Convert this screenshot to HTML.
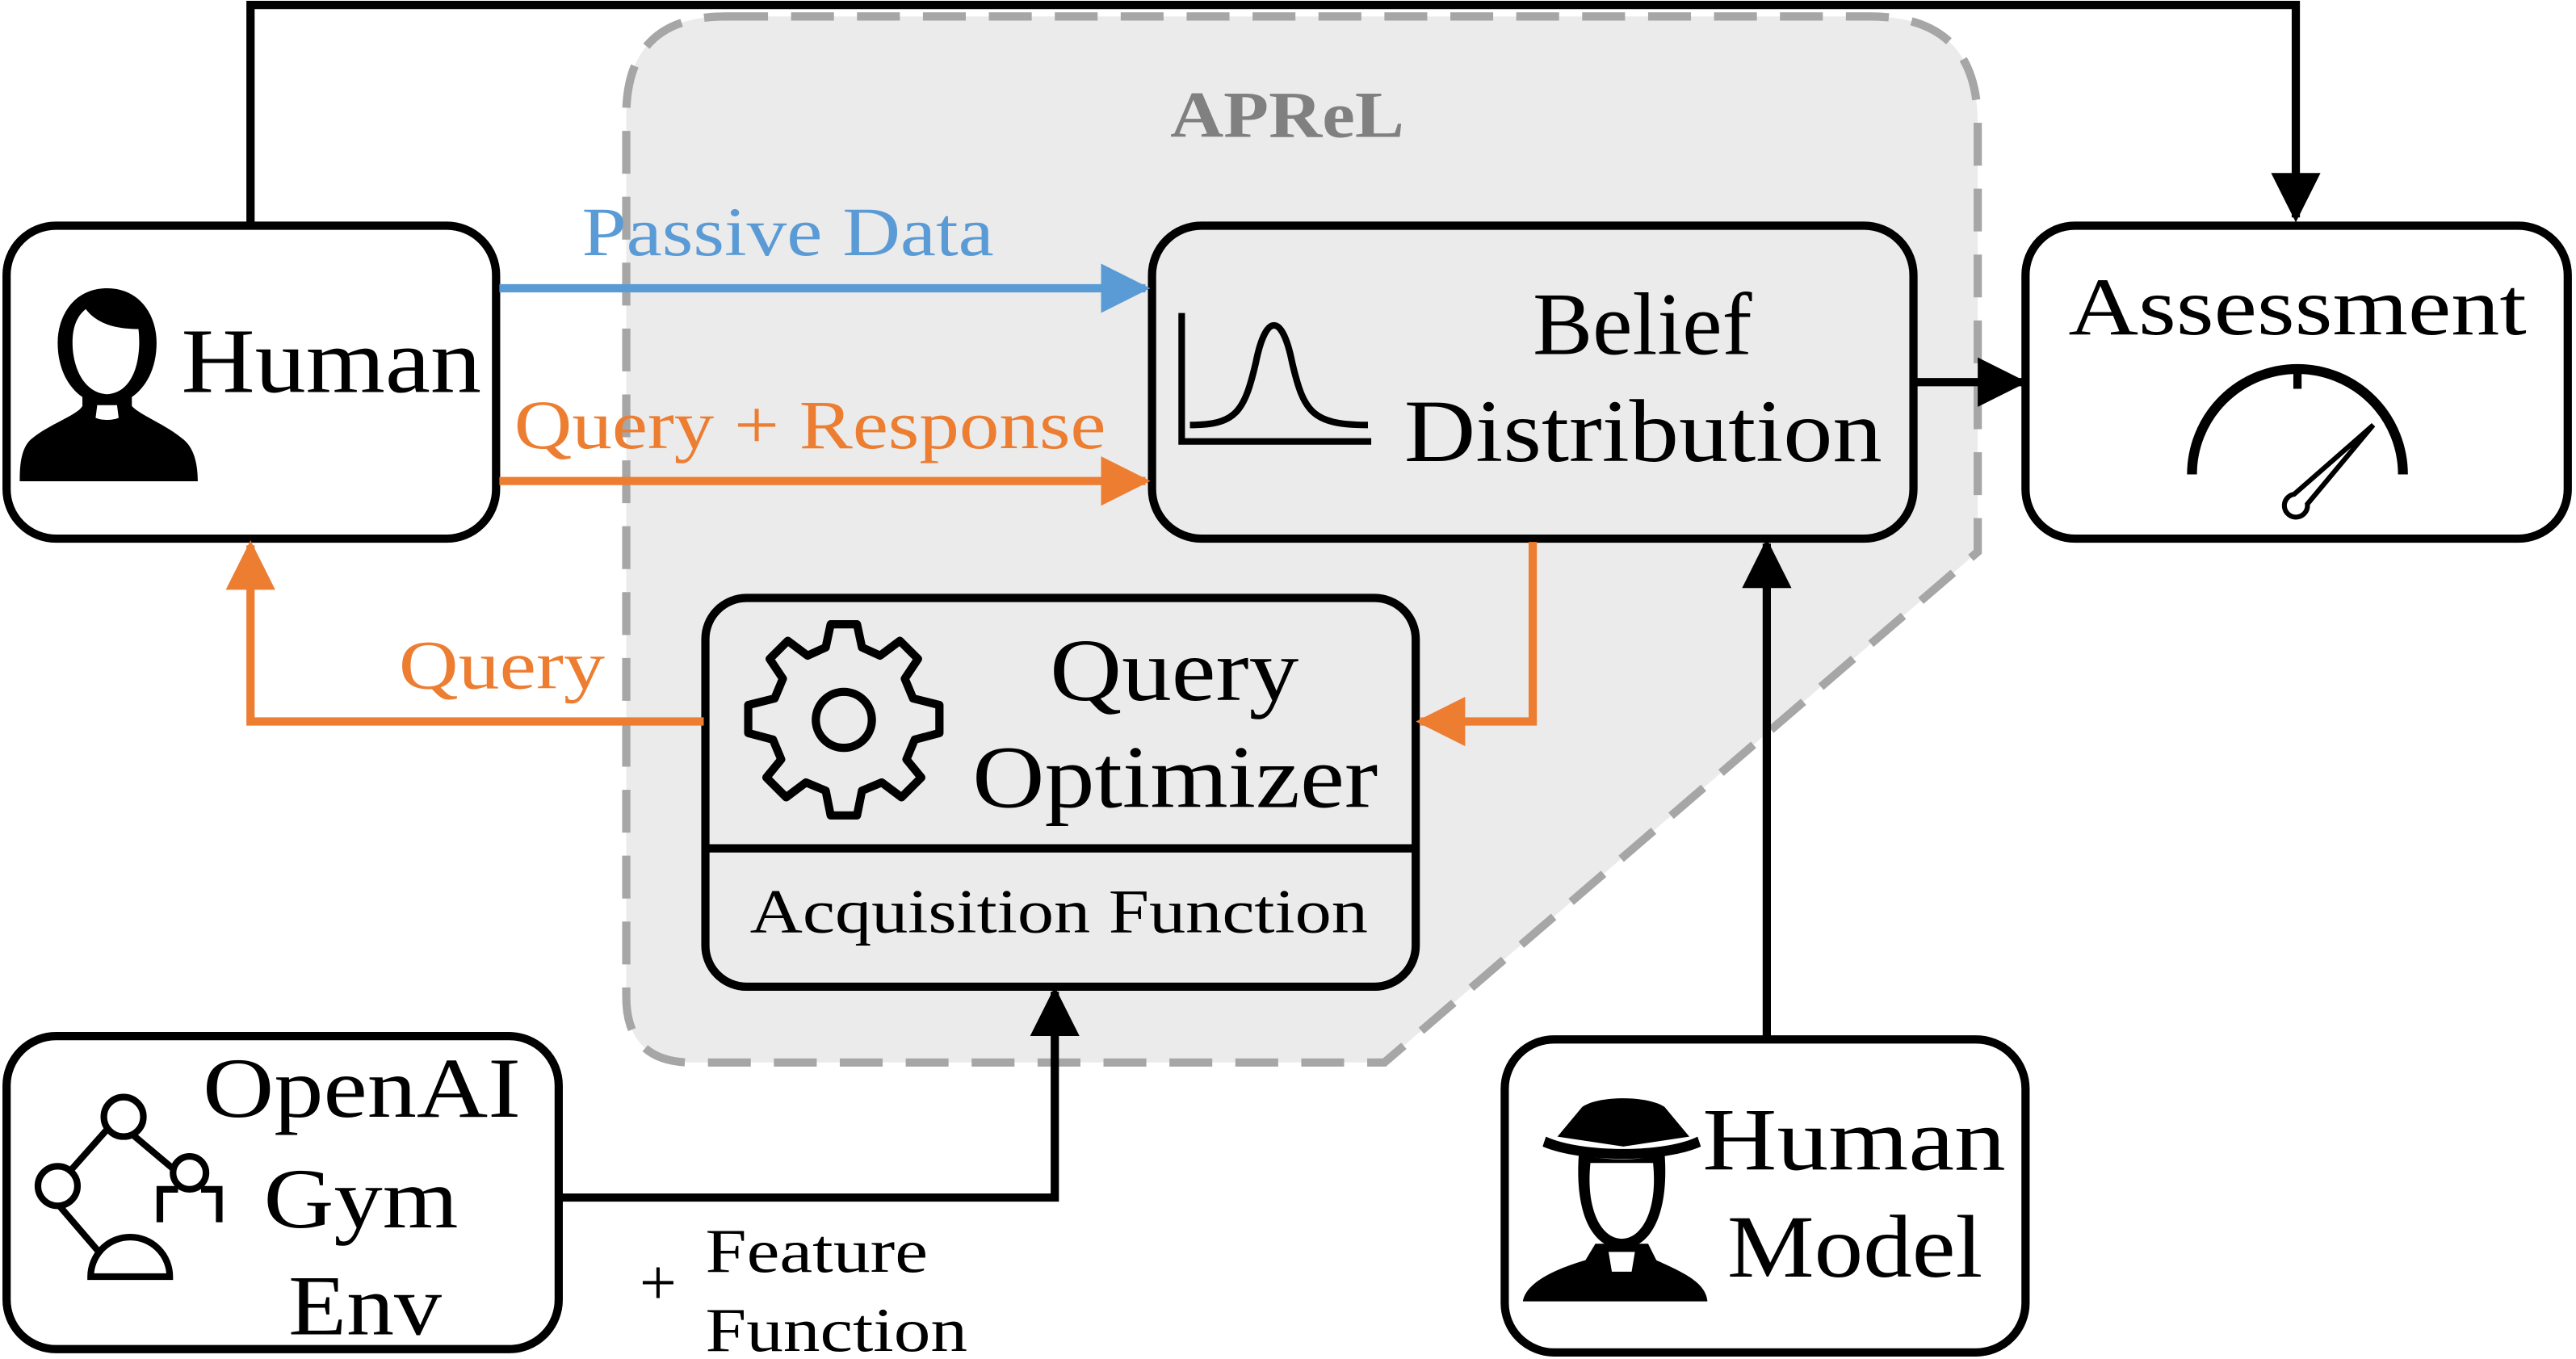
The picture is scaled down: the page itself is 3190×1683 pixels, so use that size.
<!DOCTYPE html>
<html><head><meta charset="utf-8"><style>
html,body{margin:0;padding:0;background:#fff;}
svg{display:block;}
text{font-family:"Liberation Serif",serif;}
</style></head><body>
<svg width="3190" height="1683" viewBox="0 0 1563 825" preserveAspectRatio="none" xmlns="http://www.w3.org/2000/svg">
<defs>
<marker id="ab" viewBox="0 0 10 10" refX="9" refY="5" markerWidth="6" markerHeight="6" orient="auto" markerUnits="strokeWidth"><path d="M0,0L10,5L0,10z" fill="#5b9bd5"/></marker>
<marker id="ao" viewBox="0 0 10 10" refX="9" refY="5" markerWidth="6" markerHeight="6" orient="auto" markerUnits="strokeWidth"><path d="M0,0L10,5L0,10z" fill="#ed7d31"/></marker>
<marker id="ak" viewBox="0 0 10 10" refX="9" refY="5" markerWidth="6" markerHeight="6" orient="auto" markerUnits="strokeWidth"><path d="M0,0L10,5L0,10z" fill="#000"/></marker>
</defs>
<path d="M440,10 L1135,10 Q1200,10 1200,75 L1200,335 L840,645 L420,645 Q380,645 380,605 L380,70 Q380,10 440,10Z" fill="#ebebeb" stroke="#a6a6a6" stroke-width="5" stroke-dasharray="26,14"/>
<text x="710" y="83" font-size="40" font-weight="bold" fill="#808080" textLength="142" lengthAdjust="spacingAndGlyphs">APReL</text>
<path d="M152,135 L152,3 L1393,3 L1393,132" fill="none" stroke="#000" stroke-width="5" marker-end="url(#ak)"/>
<rect x="4" y="137" width="297" height="190" rx="30" fill="#fff" stroke="#000" stroke-width="5"/>
<rect x="1229" y="137" width="329" height="190" rx="30" fill="#fff" stroke="#000" stroke-width="5"/>
<rect x="699" y="137" width="462" height="190" rx="30" fill="#ebebeb" stroke="#000" stroke-width="5"/>
<rect x="428" y="363" width="431" height="236" rx="25" fill="#ebebeb" stroke="#000" stroke-width="5"/>
<line x1="428" y1="515" x2="859" y2="515" stroke="#000" stroke-width="5"/>
<rect x="4" y="629" width="335" height="190" rx="30" fill="#fff" stroke="#000" stroke-width="5"/>
<rect x="913" y="631" width="316" height="190" rx="30" fill="#fff" stroke="#000" stroke-width="5"/>
<line x1="303" y1="175" x2="695" y2="175" stroke="#5b9bd5" stroke-width="5" marker-end="url(#ab)"/>
<line x1="303" y1="292" x2="695" y2="292" stroke="#ed7d31" stroke-width="5" marker-end="url(#ao)"/>
<path d="M427,438 L152,438 L152,331" fill="none" stroke="#ed7d31" stroke-width="5" marker-end="url(#ao)"/>
<path d="M930,329 L930,438 L862,438" fill="none" stroke="#ed7d31" stroke-width="5" marker-end="url(#ao)"/>
<line x1="1162" y1="232" x2="1227" y2="232" stroke="#000" stroke-width="5" marker-end="url(#ak)"/>
<line x1="1072" y1="630" x2="1072" y2="330" stroke="#000" stroke-width="5" marker-end="url(#ak)"/>
<path d="M340,727 L640,727 L640,602" fill="none" stroke="#000" stroke-width="5" marker-end="url(#ak)"/>
<text x="353" y="155" font-size="42" fill="#5b9bd5" textLength="250" lengthAdjust="spacingAndGlyphs">Passive Data</text>
<text x="312" y="272" font-size="42" fill="#ed7d31" textLength="359" lengthAdjust="spacingAndGlyphs">Query + Response</text>
<text x="242" y="418" font-size="42" fill="#ed7d31" textLength="125" lengthAdjust="spacingAndGlyphs">Query</text>
<text x="110" y="238" font-size="56" textLength="182" lengthAdjust="spacingAndGlyphs">Human</text>
<text x="1255" y="203" font-size="50" textLength="278" lengthAdjust="spacingAndGlyphs">Assessment</text>
<text x="930" y="215" font-size="54" textLength="133" lengthAdjust="spacingAndGlyphs">Belief</text>
<text x="852" y="280" font-size="54" textLength="290" lengthAdjust="spacingAndGlyphs">Distribution</text>
<text x="637" y="425" font-size="54" textLength="151" lengthAdjust="spacingAndGlyphs">Query</text>
<text x="590" y="490" font-size="54" textLength="246" lengthAdjust="spacingAndGlyphs">Optimizer</text>
<text x="455" y="566" font-size="38" textLength="375" lengthAdjust="spacingAndGlyphs">Acquisition Function</text>
<text x="123" y="678" font-size="52" textLength="193" lengthAdjust="spacingAndGlyphs">OpenAI</text>
<text x="160" y="745" font-size="52" textLength="118" lengthAdjust="spacingAndGlyphs">Gym</text>
<text x="175" y="810" font-size="52" textLength="93" lengthAdjust="spacingAndGlyphs">Env</text>
<text x="1033" y="710" font-size="54" textLength="184" lengthAdjust="spacingAndGlyphs">Human</text>
<text x="1048" y="775" font-size="54" textLength="155" lengthAdjust="spacingAndGlyphs">Model</text>
<text x="388" y="792" font-size="40">+</text>
<text x="428" y="772" font-size="38" textLength="135" lengthAdjust="spacingAndGlyphs">Feature</text>
<text x="428" y="820" font-size="38" textLength="159" lengthAdjust="spacingAndGlyphs">Function</text>
<g transform="translate(0,175) scale(1,0.55) translate(0,-175)">
<path d="M65,175 C45,175 35,205 35,235 C35,265 42,285 50,295 L50,305 C47,315 30,325 20,340 C12,350 12,375 12,388 L120,388 C120,370 118,350 110,340 C100,325 85,315 80,305 L80,295 C88,285 95,265 95,235 C95,205 85,175 65,175Z" fill="#000"/>
<path d="M52,198 C57,210 66,220 84,220 C86,250 82,290 65,292 C50,290 44,260 44,235 C44,220 46,207 52,198Z" fill="#fff"/>
<path d="M59,304 L71,304 L72,318 C68,321 62,321 58,318Z" fill="#fff"/>
</g>
<path d="M717,190 L717,268 L832,268" fill="none" stroke="#000" stroke-width="4"/>
<path d="M722,258 C750,258 755,250 762,220 C768,190 778,190 784,220 C791,250 796,258 830,258" fill="none" stroke="#000" stroke-width="4"/>
<path d="M1330,288 A64,64 0 0 1 1458,288" fill="none" stroke="#000" stroke-width="6"/>
<line x1="1394" y1="224" x2="1394" y2="236" stroke="#000" stroke-width="5"/>
<path d="M1440,258 L1392,300 A7,7 0 1 0 1400,306Z" fill="#fff" stroke="#000" stroke-width="3"/>
<g transform="translate(512,437)">
<path d="M-8,-58 L8,-58 L11,-44 L22,-39 L34,-48 L45,-37 L37,-25 L42,-13 L58,-9 L58,8 L43,12 L38,24 L47,35 L35,47 L23,38 L11,43 L8,58 L-8,58 L-11,43 L-23,38 L-35,47 L-47,35 L-38,24 L-43,12 L-58,8 L-58,-9 L-42,-13 L-37,-25 L-45,-37 L-34,-48 L-22,-39 L-11,-44Z" fill="none" stroke="#000" stroke-width="5" stroke-linejoin="round"/>
<circle r="17" fill="none" stroke="#000" stroke-width="5"/>
</g>
<g fill="none" stroke="#000" stroke-width="4">
<path d="M55,775 A24,24 0 0 1 103,775 Z"/>
<path d="M60,760 L30,725 L70,680 L108,712"/>
<circle cx="35" cy="720" r="12" fill="#fff"/>
<circle cx="75" cy="678" r="12" fill="#fff"/>
<circle cx="115" cy="712" r="10" fill="#fff"/>
<path d="M97,742 L97,722 L108,722 M122,722 L133,722 L133,742"/>
</g>
<path d="M960,672 L945,690 L985,696 L1025,690 L1010,672 C1000,665 970,665 960,672Z" fill="#000"/>
<path d="M938,690 C960,700 1010,700 1030,690 L1032,696 C1010,706 960,706 936,696Z" fill="#000"/>
<path d="M958,700 C955,740 968,758 984,758 C1000,758 1013,740 1010,700 C1000,705 968,705 958,700Z" fill="#000"/>
<path d="M965,706 C962,735 972,752 984,752 C996,752 1006,735 1003,706Z" fill="#fff"/>
<path d="M968,755 L1000,755 L1005,765 C1020,772 1035,778 1036,790 L924,790 C926,778 945,770 962,765Z" fill="#000"/>
<path d="M976,760 L992,760 L990,772 L978,772Z" fill="#fff"/>
</svg>
</body></html>
